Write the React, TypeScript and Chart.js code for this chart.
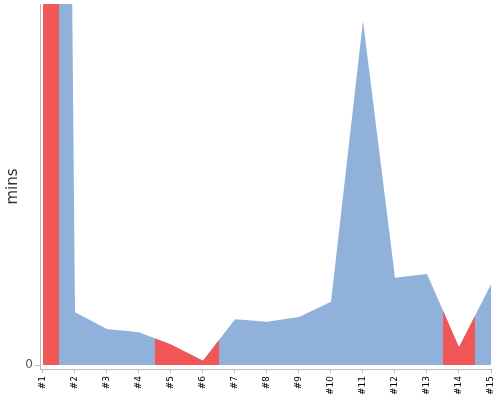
import React, { useEffect, useRef } from 'react';
import { Chart, registerables } from 'chart.js';

// run labels and minutes per run
const runLabels = ['#1', '#2', '#3', '#4', '#5', '#6', '#7', '#8', '#9', '#10', '#11', '#12', '#13', '#14', '#15'];
const minutes = [1000, 14.6, 10.0, 9.1, 5.7, 1.2, 12.7, 12.0, 13.3, 17.5, 95.3, 24.2, 25.2, 4.9, 22.4];
// runs highlighted in red (0-based)
const flaggedRuns = [0, 4, 5, 13];
const yTickValues = [0];

const BLUE = '#8fb1da';
const RED = '#f25757';

// clips the flagged dataset to half a step either side of each flagged run.
// registered before the filler so the clip is active when the fill is drawn
const flagClip = {
  id: 'flagClip',
  beforeDatasetDraw(chart: any, args: any) {
    if (chart.data.datasets[args.index]?.label !== 'flagged') return;
    const { ctx, chartArea } = chart;
    const x = chart.scales.x;
    ctx.save();
    ctx.beginPath();
    flaggedRuns.forEach((i) => {
      const x0 = x.getPixelForValue(i + 1 - 0.5);
      const x1 = x.getPixelForValue(i + 1 + 0.5);
      ctx.rect(x0, chartArea.top, x1 - x0, chartArea.bottom - chartArea.top);
    });
    ctx.clip();
  },
  afterDatasetDraw(chart: any, args: any) {
    if (chart.data.datasets[args.index]?.label !== 'flagged') return;
    chart.ctx.restore();
  },
};

Chart.register(flagClip, ...registerables);

const AreaChart: React.FC = () => {
  const canvasRef = useRef<HTMLCanvasElement | null>(null);

  useEffect(() => {
    if (!canvasRef.current) return;
    const points = minutes.map((v, i) => ({ x: i + 1, y: v }));

    const chart = new Chart(canvasRef.current, {
      type: 'line',
      data: {
        datasets: [
          {
            label: 'all',
            data: points,
            backgroundColor: BLUE,
            borderWidth: 0,
            pointRadius: 0,
            fill: 'origin',
            order: 2,
          },
          {
            label: 'flagged',
            data: points,
            backgroundColor: RED,
            borderWidth: 0,
            pointRadius: 0,
            fill: 'origin',
            order: 1,
          },
        ],
      },
      options: {
        animation: false,
        responsive: true,
        maintainAspectRatio: false,
        layout: { padding: { top: 4, right: 9, left: 0, bottom: 0 } },
        plugins: {
          legend: { display: false },
          tooltip: { enabled: false },
        },
        scales: {
          x: {
            type: 'linear',
            min: 0.9063,
            max: 15,
            afterBuildTicks: (scale: any) => {
              scale.ticks = runLabels.map((_, i) => ({ value: i + 1 }));
            },
            afterFit: (scale: any) => {
              scale.height = 31;
              scale.paddingLeft = 0;
              scale.paddingRight = 0;
            },
            grid: { drawOnChartArea: false, tickLength: 4, color: '#bbb' },
            border: { color: '#bbb' },
            ticks: {
              autoSkip: false,
              maxRotation: 90,
              minRotation: 90,
              padding: 3,
              color: '#000',
              font: { family: 'DejaVu Sans', size: 9 },
              callback: (v: any) => runLabels[Number(v) - 1] ?? '',
            },
          },
          y: {
            min: -1.108,
            max: 100,
            afterBuildTicks: (scale: any) => {
              scale.ticks = yTickValues.map((v) => ({ value: v }));
            },
            afterFit: (scale: any) => {
              scale.width = 40;
              scale.paddingTop = 0;
              scale.paddingBottom = 0;
            },
            grid: { drawOnChartArea: false, tickLength: 5, color: '#bbb' },
            border: { color: '#bbb' },
            ticks: {
              padding: 2,
              color: '#555',
              font: { family: 'DejaVu Sans', size: 12 },
            },
            title: {
              display: true,
              text: 'mins',
              color: '#333',
              padding: { top: 4, bottom: 0 },
              font: { family: 'DejaVu Sans', size: 15 },
            },
          },
        },
      },
    });

    return () => {
      chart.destroy();
    };
  }, []);

  return (
    <div style={{ position: 'absolute', left: 0, top: 0, width: 500, height: 400 }}>
      <canvas ref={canvasRef}></canvas>
    </div>
  );
};

export default function App() {
  return <AreaChart />;
}
